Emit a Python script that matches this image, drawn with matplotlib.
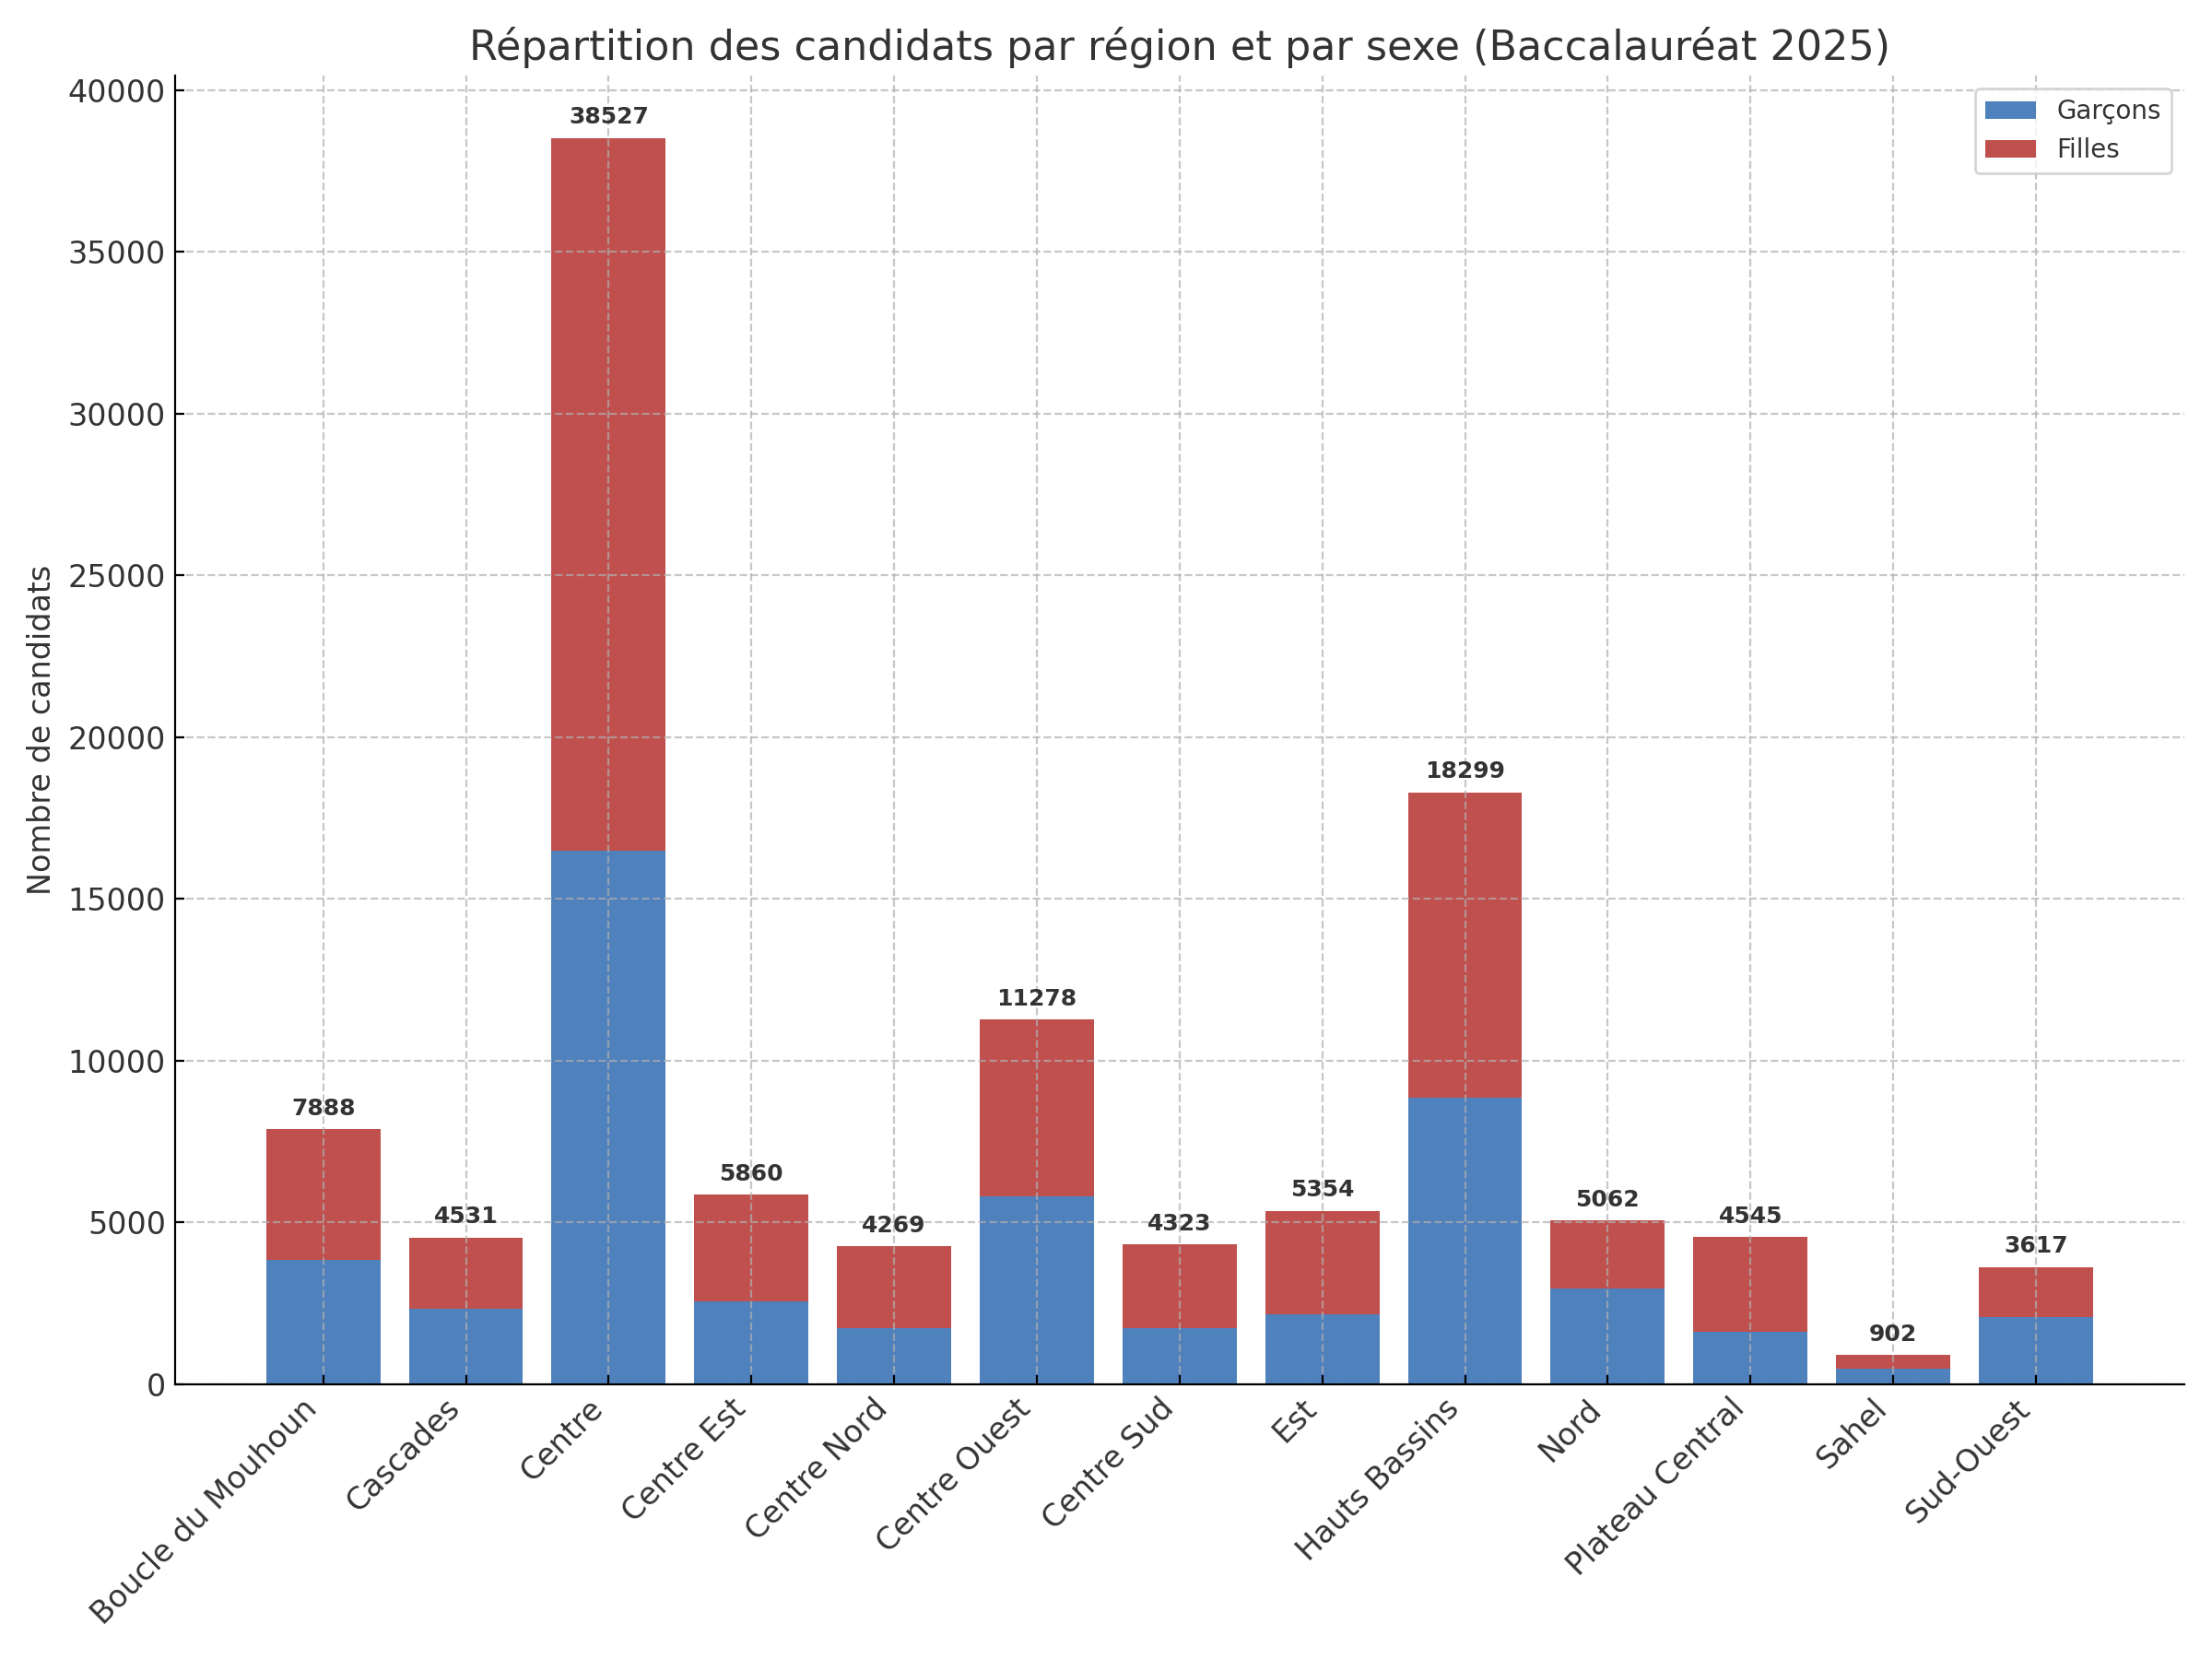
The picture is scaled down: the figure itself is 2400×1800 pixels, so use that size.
import numpy as np
import matplotlib
matplotlib.use('Agg')
import matplotlib.pyplot as plt

regions = ['Boucle du Mouhoun', 'Cascades', 'Centre', 'Centre Est', 'Centre Nord',
           'Centre Ouest', 'Centre Sud', 'Est', 'Hauts Bassins', 'Nord',
           'Plateau Central', 'Sahel', 'Sud-Ouest']
totaux = [7888, 4531, 38527, 5860, 4269, 11278, 4323, 5354, 18299, 5062, 4545, 902, 3617]
garcons = [3850, 2330, 16500, 2550, 1735, 5800, 1735, 2150, 8850, 2950, 1625, 480, 2080]
filles = [t - g for t, g in zip(totaux, garcons)]

gris = '#333333'
plt.rcParams['text.color'] = gris
plt.rcParams['axes.labelcolor'] = gris
plt.rcParams['xtick.labelcolor'] = gris
plt.rcParams['ytick.labelcolor'] = gris

fig, ax = plt.subplots(figsize=(12, 9), dpi=200)
x = np.arange(len(regions))
ax.bar(x, garcons, width=0.8, color='#4F81BD', label='Garçons')
ax.bar(x, filles, width=0.8, bottom=garcons, color='#C0504D', label='Filles')

for i, t in enumerate(totaux):
    ax.text(x[i], t + 300, str(t), ha='center', va='bottom', fontsize=9, fontweight='bold', color=gris)

ax.set_xticks(x)
ax.set_xticklabels(regions, rotation=45, ha='right', fontsize=12)
ax.tick_params(axis='y', labelsize=12)
ax.tick_params(direction='in')
ax.set_ylabel('Nombre de candidats', fontsize=12)
ax.set_title('Répartition des candidats par région et par sexe (Baccalauréat 2025)', fontsize=16)
ax.grid(True, linestyle='--', alpha=0.7)
ax.spines['top'].set_visible(False)
ax.spines['right'].set_visible(False)
ax.legend(fontsize=10)

plt.subplots_adjust(left=0.079, right=0.9875, bottom=0.1656, top=0.9544)
plt.savefig('out.png')
